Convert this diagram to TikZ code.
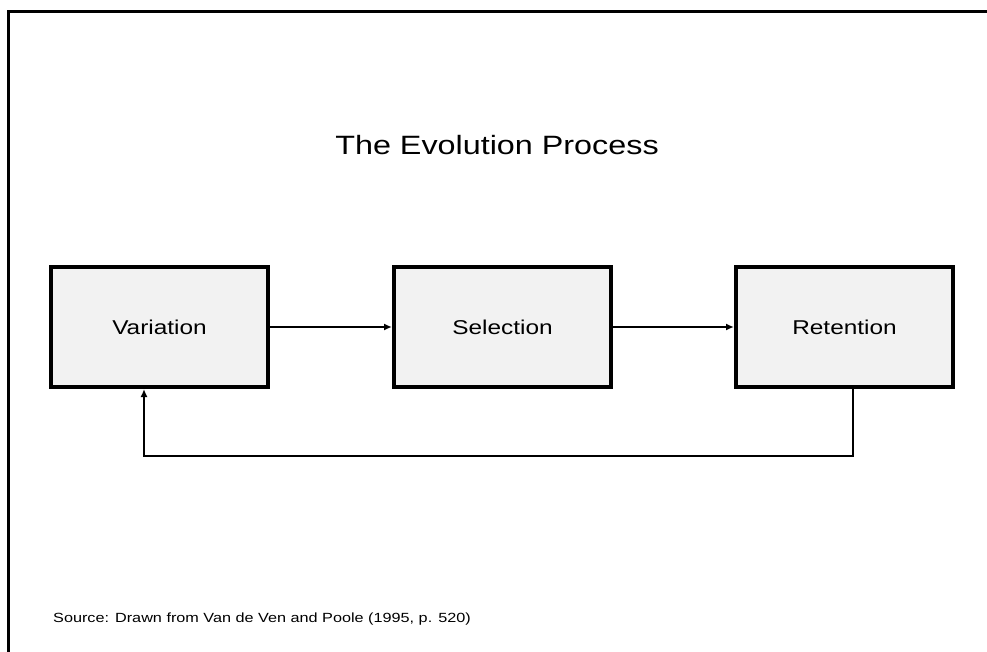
\documentclass[tikz,border=0pt]{standalone}
\usepackage{fontspec}
\setmainfont{Liberation Sans}
\usetikzlibrary{arrows.meta}
\definecolor{boxfill}{HTML}{F2F2F2}
\tikzset{
  stage/.style={draw=black, line width=4pt, fill=boxfill, minimum width=217pt, minimum height=120pt, inner sep=0pt, font=\fontsize{20}{24}\selectfont},
  flow/.style={line width=2.2pt, -{Latex[length=8pt,width=7pt]}},
  frameline/.style={line width=3pt, line cap=rect},
}
\newcommand{\wide}[1]{\scalebox{1.22}[1]{#1}}
\begin{document}
\begin{tikzpicture}[x=1pt,y=-1pt]
\useasboundingbox (0,0) rectangle (987,652);
\fill[white] (0,0) rectangle (987,652);
\coordinate (ftop) at (8,12);
\coordinate (fright) at (990,12);
\coordinate (fbot) at (8,655);
\draw[frameline] (fbot) -- (ftop) -- (fright);
\node[font=\fontsize{26.5}{30}\selectfont, anchor=base] (title) at (497,155) {\wide{The Evolution Process}};
\node[stage] (var) at (159.5,327) {\wide{Variation}};
\node[stage] (sel) at (502.5,327) {\wide{Selection}};
\node[stage] (ret) at (844.5,327) {\wide{Retention}};
\draw[flow] (var.east) -- (sel.west);
\draw[flow] (sel.east) -- (ret.west);
\coordinate (fb1) at (853,456);
\coordinate (fb2) at (144,456);
\draw[flow] (ret.south -| fb1) -- (fb1) -- (fb2) -- (var.south -| fb2);
\node[font=\fontsize{13.3}{16}\selectfont, anchor=base west, inner sep=0pt] (src) at (53,622) {\wide{Source: Drawn from Van de Ven and Poole (1995, p. 520)}};
\end{tikzpicture}
\end{document}
